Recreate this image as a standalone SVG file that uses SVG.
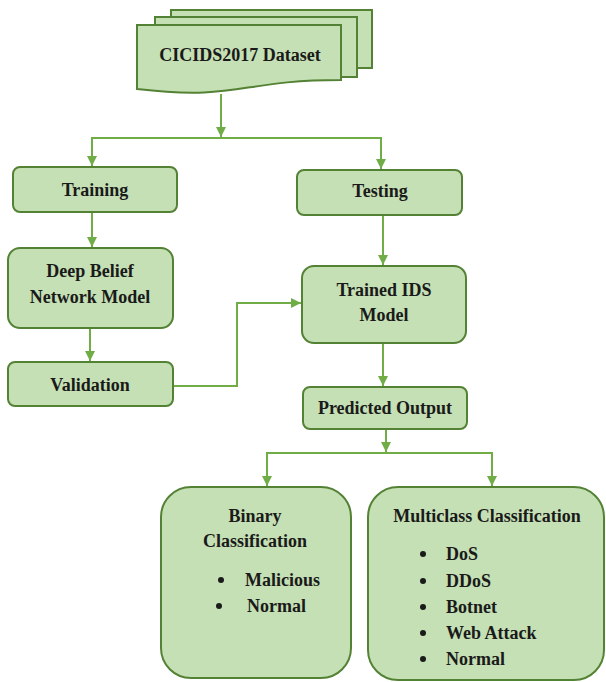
<svg xmlns="http://www.w3.org/2000/svg" width="606" height="682" viewBox="0 0 606 682">
<style>
.box{fill:#c5e0b4;stroke:#548235;stroke-width:2}
.t{font-family:"Liberation Serif","Times New Roman",serif;font-weight:bold;font-size:18px;fill:#1a1a1a;text-anchor:middle}
.l{font-family:"Liberation Serif","Times New Roman",serif;font-weight:bold;font-size:18px;fill:#1a1a1a}
.c{fill:none;stroke:#70ad47;stroke-width:2}
.b{fill:#1a1a1a}
</style>
<defs>
<marker id="ah" markerUnits="userSpaceOnUse" markerWidth="10" markerHeight="10" refX="10" refY="5" orient="auto" viewBox="0 0 10 10">
<path d="M0,0 L10,5 L0,10 Z" fill="#70ad47"/>
</marker>
</defs>
<rect width="606" height="682" fill="#ffffff"/>
<g id="connectors">
<line class="c" x1="221" y1="94" x2="221" y2="137" marker-end="url(#ah)"/>
<polyline class="c" points="221,138 92,138 92,166" marker-end="url(#ah)"/>
<polyline class="c" points="221,138 381,138 381,169" marker-end="url(#ah)"/>
<line class="c" x1="92" y1="212" x2="92" y2="247" marker-end="url(#ah)"/>
<line class="c" x1="90" y1="328" x2="90" y2="361" marker-end="url(#ah)"/>
<polyline class="c" points="173,386 237,386 237,303 301,303" marker-end="url(#ah)"/>
<line class="c" x1="383" y1="215" x2="383" y2="265" marker-end="url(#ah)"/>
<line class="c" x1="383" y1="343" x2="383" y2="386" marker-end="url(#ah)"/>
<line class="c" x1="386" y1="429" x2="386" y2="452" marker-end="url(#ah)"/>
<polyline class="c" points="386,453 267,453 267,486" marker-end="url(#ah)"/>
<polyline class="c" points="386,453 492,453 492,486" marker-end="url(#ah)"/>
</g>
<g id="dataset">
<rect class="box" x="171" y="10" width="201" height="58"/>
<rect class="box" x="155" y="17" width="202" height="60"/>
<path class="box" d="M137,25 H341 V80 C239,80 239,101 137,89 Z"/>
<text class="t" x="240" y="61">CICIDS2017 Dataset</text>
</g>
<g id="training">
<rect class="box" x="13" y="167" width="164" height="45" rx="7"/>
<text class="t" x="95" y="196">Training</text>
</g>
<g id="dbn">
<rect class="box" x="8" y="248" width="165" height="80" rx="12"/>
<text class="t" x="90" y="277">Deep Belief</text>
<text class="t" x="90" y="303">Network Model</text>
</g>
<g id="validation">
<rect class="box" x="8" y="362" width="165" height="44" rx="7"/>
<text class="t" x="90" y="391">Validation</text>
</g>
<g id="testing">
<rect class="box" x="297" y="170" width="165" height="45" rx="7"/>
<text class="t" x="380" y="197">Testing</text>
</g>
<g id="trained">
<rect class="box" x="302" y="266" width="164" height="77" rx="12"/>
<text class="t" x="384" y="296">Trained IDS</text>
<text class="t" x="384" y="321">Model</text>
</g>
<g id="predicted">
<rect class="box" x="303" y="387" width="164" height="42" rx="7"/>
<text class="t" x="385" y="414">Predicted Output</text>
</g>
<g id="binary">
<rect class="box" x="161" y="487" width="190" height="191" rx="30"/>
<text class="t" x="255" y="522">Binary</text>
<text class="t" x="255" y="547">Classification</text>
<circle class="b" cx="221" cy="580" r="3"/>
<text class="l" x="245" y="586">Malicious</text>
<circle class="b" cx="219" cy="606" r="3"/>
<text class="l" x="247" y="612">Normal</text>
</g>
<g id="multiclass">
<rect class="box" x="368" y="487" width="236" height="193" rx="30"/>
<text class="t" x="487" y="522">Multiclass Classification</text>
<circle class="b" cx="423" cy="554" r="3"/>
<text class="l" x="446" y="560">DoS</text>
<circle class="b" cx="423" cy="581" r="3"/>
<text class="l" x="446" y="587">DDoS</text>
<circle class="b" cx="423" cy="607" r="3"/>
<text class="l" x="446" y="613">Botnet</text>
<circle class="b" cx="423" cy="633" r="3"/>
<text class="l" x="446" y="639">Web Attack</text>
<circle class="b" cx="423" cy="659" r="3"/>
<text class="l" x="446" y="665">Normal</text>
</g>
</svg>
